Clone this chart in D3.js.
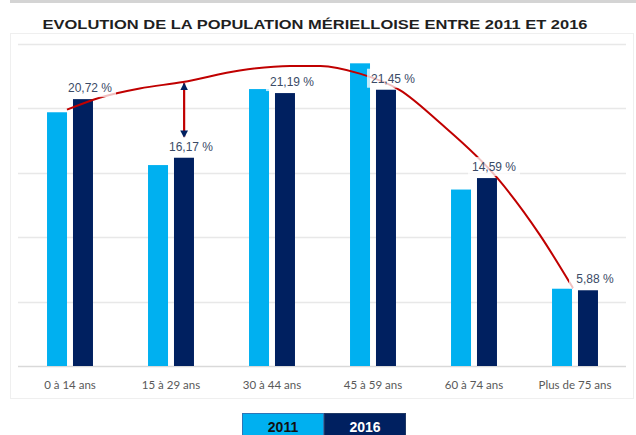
<!DOCTYPE html>
<html>
<head>
<meta charset="utf-8">
<script src="https://cdn.jsdelivr.net/npm/d3@7"></script>
<style>
  body { margin: 0; background: #fff; }
  svg { display: block; }
</style>
</head>
<body>
<div id="chart"></div>
<script>
// data
const categories = ["0 à 14 ans", "15 à 29 ans", "30 à 44 ans", "45 à 59 ans", "60 à 74 ans", "Plus de 75 ans"];
const years = ["2011", "2016"];
const values2011 = [19.7, 15.6, 21.5, 23.5, 13.7, 6.0];
const values2016 = [20.72, 16.17, 21.19, 21.45, 14.59, 5.88];
const yTicks = [0, 5, 10, 15, 20, 25];

// hand-drawn trend curve (category position, value)
const curvePos = [-0.03, 0.3, 0.69, 1.12, 1.68, 2.18, 2.48, 2.87, 3.27, 3.66, 4.23, 4.65, 4.98];
const curveVal = [19.9, 20.85, 21.55, 22.05, 22.95, 23.3, 23.3, 22.7, 21.4, 18.9, 14.6, 10.2, 6.05];
// double arrow between the curve and the 15-29 bar
const arrowPos = 1.13;
const arrowVals = [21.95, 17.75];

const W = 636, H = 435;
const LIGHT = "#00b0f0", NAVY = "#002060", RED = "#c00000";

const svg = d3.select("#chart").append("svg")
    .attr("width", W).attr("height", H);

// panel frame and top band
svg.append("rect").attr("x", 10).attr("y", 0).attr("width", W - 10).attr("height", 3).attr("fill", "#d4d4d4");
svg.append("rect").attr("x", 10.5).attr("y", 33.5).attr("width", 623).attr("height", 365)
    .attr("fill", "none").attr("stroke", "#efefef");

svg.append("text")
    .attr("x", 315).attr("y", 29)
    .attr("text-anchor", "middle")
    .attr("font-family", "Liberation Sans, Arial, sans-serif")
    .attr("font-weight", "bold")
    .attr("font-size", 13.5)
    .attr("fill", "#1f1f1f")
    .attr("textLength", 545)
    .attr("lengthAdjust", "spacingAndGlyphs")
    .text("EVOLUTION DE LA POPULATION MÉRIELLOISE ENTRE 2011 ET 2016");

// scales
const x0 = d3.scaleBand()
    .domain(categories)
    .range([19.5, 625.5])
    .paddingInner(0.545)
    .paddingOuter(0.2725);

const x1 = d3.scaleBand()
    .domain(years)
    .range([0, x0.bandwidth()])
    .paddingInner(0.23);

const y = d3.scaleLinear().domain([0, 25]).range([366, 44]);

const xPos = d3.scaleLinear().domain([0, 5])
    .range([x0(categories[0]) + x0.bandwidth() / 2, x0(categories[5]) + x0.bandwidth() / 2]);

// gridlines
svg.append("g")
    .selectAll("line")
    .data(yTicks)
    .join("line")
    .attr("x1", 18).attr("x2", 626)
    .attr("y1", d => Math.round(y(d)) + 0.5)
    .attr("y2", d => Math.round(y(d)) + 0.5)
    .attr("stroke", d => d === 0 ? "#d9d9d9" : "#e8e8e8")
    .attr("stroke-width", 1.5);

// bars
const rows = categories.map((c, i) => ({ cat: c, v2011: values2011[i], v2016: values2016[i] }));

const groups = svg.append("g").selectAll("g")
    .data(rows)
    .join("g")
    .attr("transform", d => `translate(${x0(d.cat)},0)`);

groups.append("rect")
    .attr("x", x1("2011"))
    .attr("y", d => y(d.v2011))
    .attr("width", x1.bandwidth())
    .attr("height", d => y(0) - y(d.v2011))
    .attr("fill", LIGHT);

groups.append("rect")
    .attr("x", x1("2016"))
    .attr("y", d => y(d.v2016))
    .attr("width", x1.bandwidth())
    .attr("height", d => y(0) - y(d.v2016))
    .attr("fill", NAVY);

// x axis labels
svg.append("g")
    .selectAll("text")
    .data(categories)
    .join("text")
    .attr("x", d => x0(d) + x0.bandwidth() / 2)
    .attr("y", 389)
    .attr("text-anchor", "middle")
    .attr("font-family", "Lato, Open Sans, sans-serif")
    .attr("font-size", 11.5)
    .attr("fill", "#595959")
    .text(d => d);

// red trend curve
const curvePts = curvePos.map((p, i) => [xPos(p), y(curveVal[i])]);
svg.append("path")
    .attr("d", d3.line().curve(d3.curveMonotoneX)(curvePts))
    .attr("fill", "none")
    .attr("stroke", RED)
    .attr("stroke-width", 2);

// double arrow
const defs = svg.append("defs");
defs.append("marker")
    .attr("id", "ah")
    .attr("viewBox", "0 0 10 10")
    .attr("refX", 9).attr("refY", 5)
    .attr("markerWidth", 3.5).attr("markerHeight", 3.5)
    .attr("orient", "auto-start-reverse")
    .append("path")
    .attr("d", "M0,0 L10,5 L0,10 Z")
    .attr("fill", NAVY);

svg.append("line")
    .attr("x1", xPos(arrowPos)).attr("x2", xPos(arrowPos))
    .attr("y1", y(arrowVals[0])).attr("y2", y(arrowVals[1]))
    .attr("stroke", RED)
    .attr("stroke-width", 2.2)
    .attr("marker-start", "url(#ah)")
    .attr("marker-end", "url(#ah)");

// value labels on the 2016 bars
const fmt = v => d3.format(".2f")(v).replace(".", ",") + " %";
const labels = svg.append("g").selectAll("g")
    .data(rows)
    .join("g")
    .attr("transform", d => `translate(${x0(d.cat) + x1("2016") + x1.bandwidth() / 2 + 7},${y(d.v2016) - 11})`);

labels.append("rect")
    .attr("x", -26).attr("y", -10)
    .attr("width", 52).attr("height", 19)
    .attr("fill", "#fff")
    .attr("fill-opacity", 0.75);

labels.append("text")
    .attr("y", 4)
    .attr("text-anchor", "middle")
    .attr("font-family", "Liberation Sans, Arial, sans-serif")
    .attr("font-size", 12)
    .attr("fill", "#3a4a66")
    .text(d => fmt(d.v2016));

// legend
const legend = svg.append("g").selectAll("g")
    .data(years)
    .join("g")
    .attr("transform", (d, i) => `translate(${242 + i * 82},413)`);

legend.append("rect")
    .attr("x", 0.5).attr("y", 0.5)
    .attr("width", 81).attr("height", 26)
    .attr("fill", (d, i) => i === 0 ? LIGHT : NAVY)
    .attr("stroke", (d, i) => i === 0 ? "#2e75b6" : "#1f3864");

legend.append("text")
    .attr("x", 41).attr("y", 19)
    .attr("text-anchor", "middle")
    .attr("font-family", "Liberation Sans, Arial, sans-serif")
    .attr("font-weight", "bold")
    .attr("font-size", 14)
    .attr("fill", (d, i) => i === 0 ? "#111" : "#fff")
    .text(d => d);
</script>
</body>
</html>
